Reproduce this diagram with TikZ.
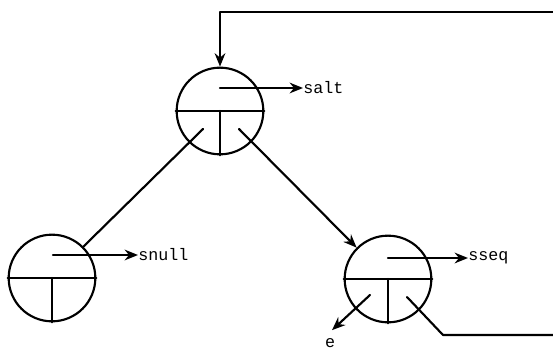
\documentclass[tikz,border=0pt]{standalone}
\usepackage{fontspec}
\setmonofont{Liberation Mono}
\usetikzlibrary{arrows.meta,calc}
\begin{document}
\begin{tikzpicture}[x=0.75pt,y=-0.75pt,
  ln/.style={line width=1.6pt,line cap=round,line join=round},
  arr/.style={ln,-{Stealth[length=10pt,width=8pt]}},
  cell/.style={draw,circle,line width=1.6pt,minimum size=65pt,inner sep=0pt},
  lbl/.style={font=\ttfamily\fontsize{12.5}{14}\selectfont,anchor=west,inner sep=0pt}]
\useasboundingbox (0,0) rectangle (553,349);
% nodes
\node[cell] (top) at (220,111) {};
\node[cell] (lft) at (52,278) {};
\node[cell] (rgt) at (388,279) {};
% internal structure
\foreach \n in {top,lft,rgt}{
  \draw[ln] (\n.west) -- (\n.east);
  \draw[ln] (\n.center) -- (\n.south);
}
% labels
\node[lbl] (salt) at (303,88) {salt};
\node[lbl] (snull) at (138,255) {snull};
\node[lbl] (sseq) at (468,258) {sseq};
\node[font=\ttfamily\fontsize{12.5}{14}\selectfont,inner sep=0pt] (e) at (330,343) {e};
% pointer arrows
\draw[arr] ($(top.center)+(0,-23)$) -- (salt.west);
\draw[arr] ($(lft.center)+(1,-23)$) -- (snull.west);
\draw[arr] ($(rgt.center)+(0,-21)$) -- (sseq.west);
% child links
\coordinate (tl) at (203,129);
\coordinate (tr) at (239,129);
\draw[ln] (tl) -- (lft.45);
\draw[arr] (tr) -- (rgt.135);
% e pointer
\coordinate (rl) at (370,295);
\draw[arr] (rl) -- ($(e.north)+(2,-8)$);
% right link back to top
\coordinate (rr) at (407,297);
\coordinate (rb) at (443,335);
\coordinate (rbe) at (553,335);
\draw[ln] (rr) -- (rb) -- (rbe);
\coordinate (tre) at (553,12);
\coordinate (tc) at (220,12);
\draw[arr] (tre) -- (tc) -- (top.north);
\end{tikzpicture}
\end{document}
